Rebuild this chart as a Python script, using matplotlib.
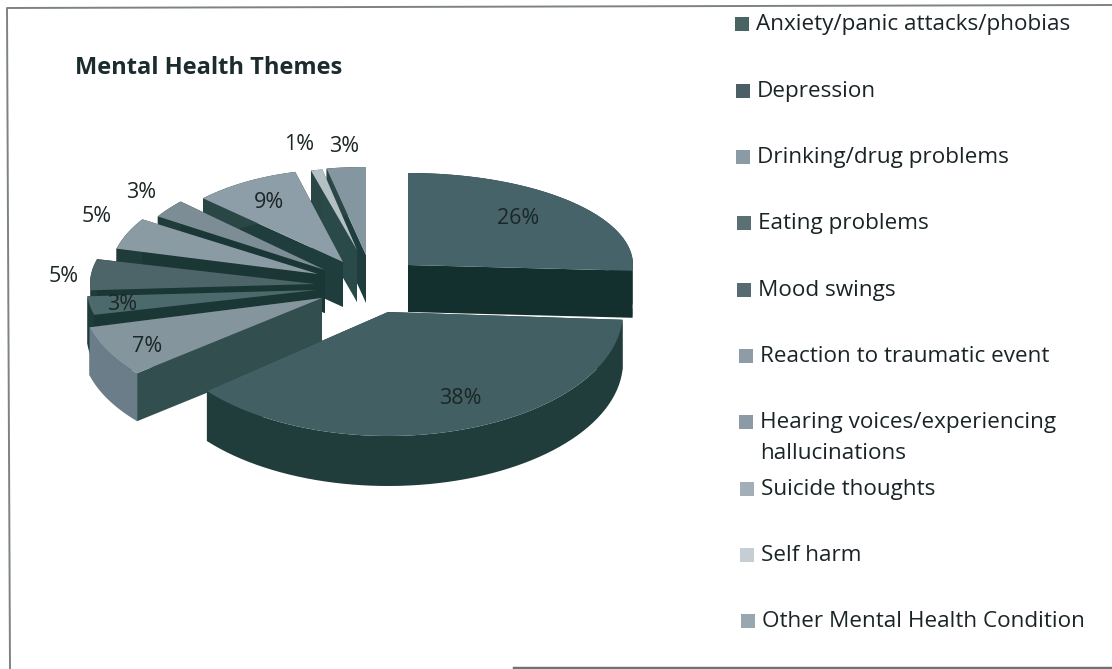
import numpy as np
import matplotlib.pyplot as plt

plt.rcParams['font.family'] = ['Open Sans', 'DejaVu Sans']

title = "Mental Health Themes"
themes = ["Anxiety/panic attacks/phobias", "Depression", "Drinking/drug problems",
          "Eating problems", "Mood swings", "Reaction to traumatic event",
          "Hearing voices/experiencing\nhallucinations", "Suicide thoughts",
          "Self harm", "Other Mental Health Condition"]
percent = [26, 38, 7, 3, 5, 5, 3, 9, 1, 3]

# per slice layout, in pixels: apex of the top face and the ellipse radii
apex_x = [408, 388, 322, 317, 315, 318, 325, 343, 357, 366]
apex_y = [265, 312, 298, 290, 284, 274, 270, 262, 250, 255]
radius_x = [225, 235, 240, 230, 225, 208, 198, 192, 185, 210]
radius_y = [92, 124, 118, 100, 100, 102, 100, 93, 82, 88]
depth = [47, 50, 48, 48, 46, 45, 43, 45, 52, 48]

top_colors = ["#46636a", "#425f64", "#84959e", "#4c6a6c", "#4d6468",
              "#8b9ba4", "#7c8d95", "#8e9ea8", "#b5c0c5", "#84969f"]
arc_colors = ["#14302e", "#203c3b", "#6a7d88", "#1f3b3a", "#1f3b3a",
              "#1f3b3a", "#1f3b3a", "#2a4645", "#2a4645", "#2a4645"]
cut_colors = ["#14302e", "#1d3a3a", "#324e4f", "#1a3635", "#1a3635",
              "#1a3635", "#1a3635", "#1e3d3c", "#2a4a4a", "#1e3d3c"]

# back to front, so nearer slices cover the sides of farther ones
draw_order = [9, 8, 7, 6, 5, 4, 3, 0, 2, 1]

label_x = [518, 460, 147, 122, 64, 97, 141, 269, 299, 344]
label_y = [218, 399, 346, 305, 276, 216, 193, 202, 145, 147]
label_color = "#1c2626"

legend_x = [735, 736, 736, 737, 737, 739, 739, 740, 740, 741]
legend_y = [24, 91, 157, 223, 290, 356, 422, 489, 555, 621]
legend_colors = ["#4a6464", "#4a6066", "#8b9ba6", "#5a7073", "#566c72",
                 "#8e9ca8", "#8c9aa6", "#a3afb8", "#c5ced2", "#98a7b0"]

fig = plt.figure(figsize=(11.12, 6.69), dpi=100)
ax = fig.add_axes([0, 0, 1, 1])
ax.set_xlim(0, 1112)
ax.set_ylim(669, 0)
ax.axis("off")

ends = np.cumsum(percent) / 100 * 2 * np.pi
starts = np.concatenate(([0], ends[:-1]))

for i in draw_order:
    theta = np.linspace(starts[i], ends[i], 60)
    arc_x = apex_x[i] + radius_x[i] * np.sin(theta)
    arc_y = apex_y[i] - radius_y[i] * np.cos(theta)
    d = depth[i]

    # the two cut faces hanging below the radial edges
    for end in (0, -1):
        ax.fill([apex_x[i], arc_x[end], arc_x[end], apex_x[i]],
                [apex_y[i], arc_y[end], arc_y[end] + d, apex_y[i] + d],
                color=cut_colors[i], lw=0)
    # outer rim
    ax.fill(np.r_[arc_x, arc_x[::-1]], np.r_[arc_y, arc_y[::-1] + d],
            color=arc_colors[i], lw=0)
    # top face
    ax.fill(np.r_[apex_x[i], arc_x], np.r_[apex_y[i], arc_y],
            color=top_colors[i], lw=0)

for i, p in enumerate(percent):
    ax.text(label_x[i], label_y[i], f"{p}%", fontsize=15.5, color=label_color,
            ha="center", va="center")

ax.text(75, 68, title, fontsize=17, fontweight="bold", color="#1c2b2e",
        ha="left", va="center")

for i, theme in enumerate(themes):
    ax.scatter(legend_x[i] + 7, legend_y[i], marker="s", s=90,
               color=legend_colors[i], lw=0)
    ax.text(legend_x[i] + 21, legend_y[i] - 10, theme, fontsize=16.2, color="#1a2426",
            ha="left", va="top", linespacing=1.6)

# scanned page frame: top and left edges, heavier strip along the bottom right
ax.plot([1112, 7, 10], [5, 8, 669], color="#7d8385", lw=1.4)
ax.plot([514, 1112], [668, 668], color="#6f7476", lw=2.5)

fig.savefig("out.png", dpi=100)
